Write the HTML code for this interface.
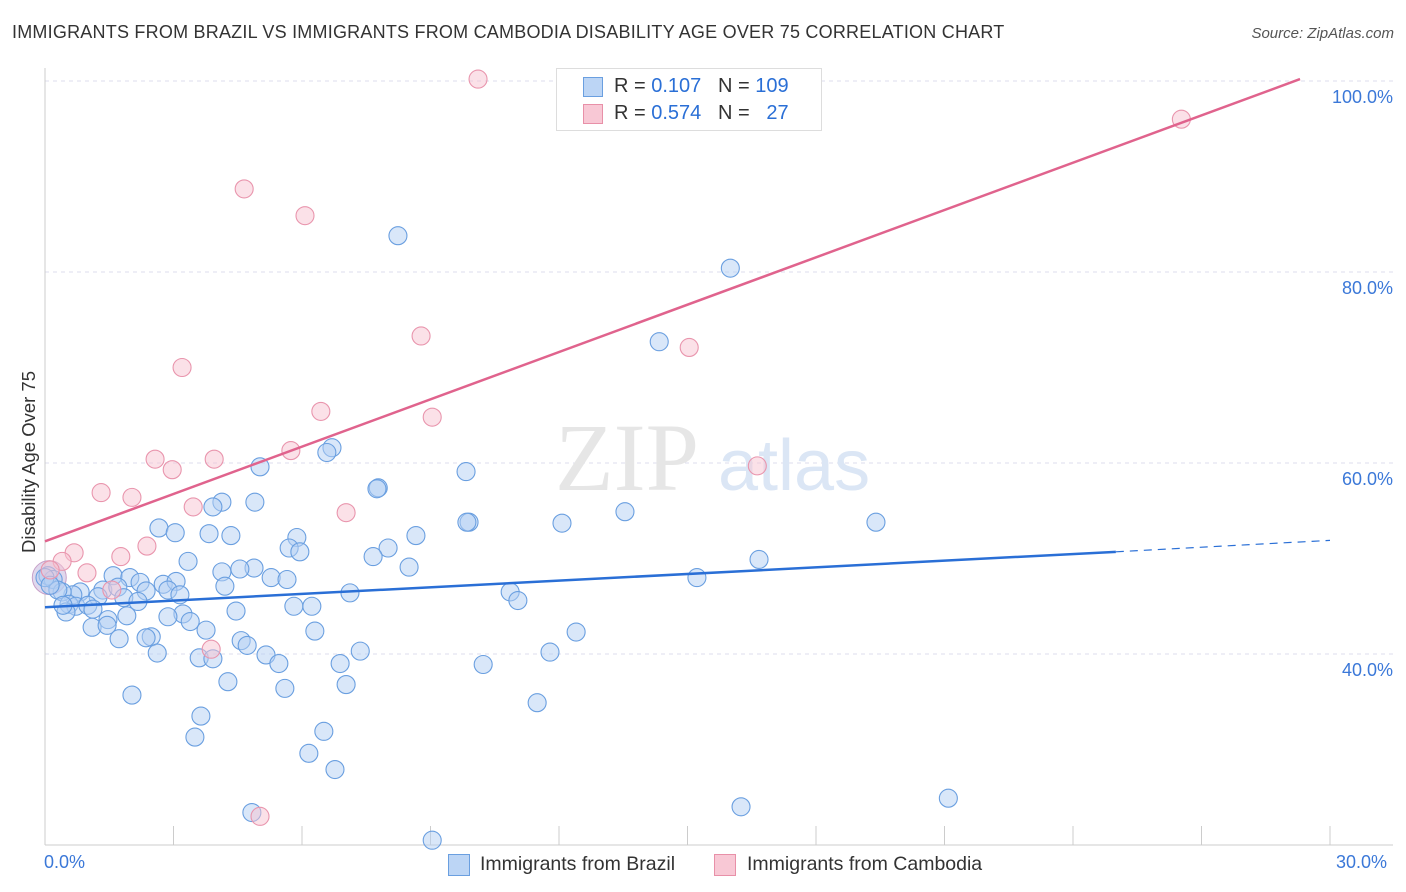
<!DOCTYPE html>
<html><head><meta charset="utf-8"><style>
body{margin:0;background:#fff;font-family:"Liberation Sans",sans-serif;}
#wrap{position:relative;width:1406px;height:892px;overflow:hidden;}
.t{position:absolute;white-space:nowrap;}
</style></head><body>
<div id="wrap">
<div class="t" style="left:12px;top:22px;font-size:18px;letter-spacing:0.22px;color:#333;">IMMIGRANTS FROM BRAZIL VS IMMIGRANTS FROM CAMBODIA DISABILITY AGE OVER 75 CORRELATION CHART</div>
<div class="t" style="right:12px;top:25px;font-size:15px;color:#555;font-style:italic;">Source: ZipAtlas.com</div>
<svg id="svg" width="1406" height="892" style="position:absolute;left:0;top:0"></svg>
</div>
<script>
const xs_brazil=[8.24,16.0,14.34,6.70,6.58,5.02,9.83,7.78,7.75,4.13,4.90,3.92,13.54,9.90,9.85,12.07,19.40,2.66,3.04,5.88,8.66,3.83,4.34,5.70,5.95,8.01,7.66,16.67,3.34,8.50,4.88,4.55,4.13,0.07,0.19,1.59,1.98,2.22,2.76,3.06,5.28,5.65,15.22,4.20,1.35,1.70,2.36,2.87,3.15,0.82,0.65,0.40,0.30,7.12,10.86,1.84,1.24,2.17,0.56,0.72,1.00,1.12,0.49,0.42,11.04,5.81,6.23,4.46,3.22,2.87,1.91,1.47,3.39,1.10,1.45,3.76,6.30,12.40,2.48,2.36,1.73,4.58,4.72,2.62,7.36,11.79,5.16,3.60,3.92,5.46,6.89,10.23,4.27,5.60,7.03,2.03,11.49,3.64,6.51,3.50,6.16,6.77,21.09,4.83,16.25,9.04,0.0,0.12];
const ys_brazil=[83.8,80.4,72.7,61.6,61.1,59.6,59.1,57.4,57.3,55.9,55.9,55.4,54.9,53.8,53.8,53.7,53.8,53.2,52.7,52.2,52.4,52.6,52.4,51.1,50.7,51.1,50.2,49.9,49.7,49.1,49.0,48.9,48.6,48.2,47.8,48.2,48.0,47.5,47.3,47.6,48.0,47.8,48.0,47.1,46.7,47.0,46.6,46.7,46.2,46.5,46.2,46.5,46.7,46.4,46.5,45.9,46.0,45.5,45.2,45.0,45.1,44.7,44.4,45.1,45.6,45.0,45.0,44.5,44.2,43.9,44.0,43.6,43.4,42.8,43.0,42.5,42.4,42.3,41.8,41.7,41.6,41.4,40.9,40.1,40.3,40.2,39.9,39.6,39.5,39.0,39.0,38.9,37.1,36.4,36.8,35.7,34.9,33.5,31.9,31.3,29.6,27.9,24.9,23.4,24.0,20.5,48.0,47.2];
const xs_cambodia=[10.11,26.53,4.65,6.07,8.78,15.04,3.20,6.44,9.04,5.74,2.57,3.95,16.63,2.97,1.31,2.03,3.46,7.03,2.38,1.77,0.68,0.40,0.98,1.56,3.88,5.02,0.12];
const ys_cambodia=[100.2,96.0,88.7,85.9,73.3,72.1,70.0,65.4,64.8,61.3,60.4,60.4,59.7,59.3,56.9,56.4,55.4,54.8,51.3,50.2,50.6,49.7,48.5,46.7,40.5,23.0,48.8];
const trend_brazil=[44.9,50.7,51.9];
const trend_brazil_x=[0,25,30];
const trend_cambodia=[51.8,100.2];
const trend_cambodia_x=[0,29.3];
const y_ticks=[40,60,80,100];
const y_tick_labels=["40.0%","60.0%","80.0%","100.0%"];

const NS="http://www.w3.org/2000/svg";
const svg=document.getElementById('svg');
function X(v){return 45+v/30*1285;}
function Y(v){return 81+(100-v)/20*191;}
function el(tag,a,p){const e=document.createElementNS(NS,tag);for(const k in a)e.setAttribute(k,a[k]);(p||svg).appendChild(e);return e;}

y_ticks.forEach((t,i)=>{
  const g=el('line',{x1:45,x2:1393,y1:Y(t),y2:Y(t),stroke:'#dde',"stroke-dasharray":'4,4'});
  
  
  const tx=el('text',{x:1393,y:Y(t)+22,"text-anchor":'end',"font-size":18,fill:'#3b78d8',"font-family":'Liberation Sans'});
  tx.textContent=y_tick_labels[i];
  
  
});
let a=el('line',{x1:45,x2:45,y1:68,y2:845,stroke:'#ccc'});


a=el('line',{x1:45,x2:1393,y1:845,y2:845,stroke:'#ccc'});


for(let i=1;i<=10;i++){const tk=el('line',{x1:X(i*3),x2:X(i*3),y1:826,y2:845,stroke:'#ccc'});
  
  }
let w=el('text',{x:555,y:490,"font-size":96,fill:'#e6e6e6',"font-family":'Liberation Serif'});w.textContent='ZIP';


w=el('text',{x:718,y:490,"font-size":72,fill:'#dbe6f5',"font-family":'Liberation Sans'});w.textContent='atlas';


let big=el('circle',{cx:X(0.1),cy:Y(48.0),r:17,fill:'#b8a8d8',"fill-opacity":0.45,stroke:'#c8a0c8'});


function pts(xs,ys,fill,stroke,name){
  xs.forEach((x,i)=>{const c=el('circle',{cx:X(x),cy:Y(ys[i]),r:9,fill:fill,"fill-opacity":0.5,stroke:stroke,"stroke-width":1.1});
    
    });
}
pts(xs_brazil,ys_brazil,'#b4d0f4','#6a9fe0','point-brazil');
pts(xs_cambodia,ys_cambodia,'#f8c4d2','#e995ad','point-cambodia');
let l=el('line',{x1:X(trend_brazil_x[0]),y1:Y(trend_brazil[0]),x2:X(trend_brazil_x[1]),y2:Y(trend_brazil[1]),stroke:'#2a6fd6',"stroke-width":2.5});


l=el('line',{x1:X(trend_brazil_x[1]),y1:Y(trend_brazil[1]),x2:X(trend_brazil_x[2]),y2:Y(trend_brazil[2]),stroke:'#2a6fd6',"stroke-width":1.2,"stroke-dasharray":'8,6'});


l=el('line',{x1:X(trend_cambodia_x[0]),y1:Y(trend_cambodia[0]),x2:X(trend_cambodia_x[1]),y2:Y(trend_cambodia[1]),stroke:'#e0638d',"stroke-width":2.5});


</script>
<div class="t" style="left:44px;top:852px;font-size:18px;color:#3b78d8;">0.0%</div>
<div class="t" style="left:1336px;top:852px;font-size:18px;color:#3b78d8;">30.0%</div>
<div class="t" style="left:18px;top:553px;font-size:18.5px;color:#333;transform:rotate(-90deg);transform-origin:0 0;">Disability Age Over 75</div>
<div style="position:absolute;left:556px;top:68px;width:264px;height:61px;border:1px solid #ddd;background:#fff;font-size:20px;">
 <div style="position:absolute;left:26px;top:8px;width:18px;height:18px;background:#bcd5f5;border:1px solid #6a9fe0;"></div>
 <div class="t" style="left:57px;top:6px;color:#333;">R = <span style="color:#2a6fd6">0.107</span> &nbsp;&nbsp;N = <span style="color:#2a6fd6">109</span></div>
 <div style="position:absolute;left:26px;top:35px;width:18px;height:18px;background:#f8c8d5;border:1px solid #e890a8;"></div>
 <div class="t" style="left:57px;top:33px;color:#333;">R = <span style="color:#2a6fd6">0.574</span> &nbsp;&nbsp;N = &nbsp;&nbsp;<span style="color:#2a6fd6">27</span></div>
</div>
<div style="position:absolute;left:448px;top:854px;width:20px;height:20px;background:#bcd5f5;border:1px solid #6a9fe0;"></div>
<div class="t" style="left:480px;top:853px;font-size:19.5px;color:#333;">Immigrants from Brazil</div>
<div style="position:absolute;left:714px;top:854px;width:20px;height:20px;background:#f8c8d5;border:1px solid #e890a8;"></div>
<div class="t" style="left:747px;top:853px;font-size:19.5px;color:#333;">Immigrants from Cambodia</div>
</body></html>
